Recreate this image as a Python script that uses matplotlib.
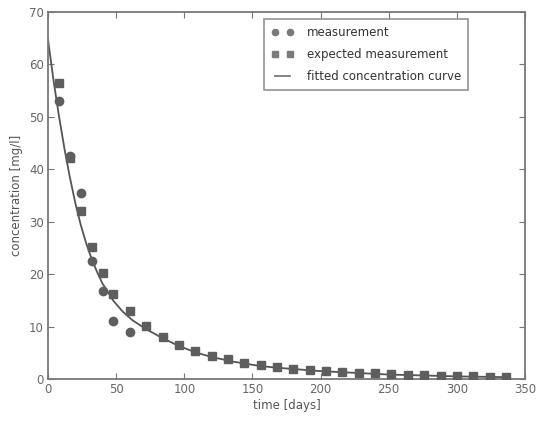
import matplotlib
matplotlib.use("Agg")
import matplotlib.pyplot as plt

# measured concentrations
meas_days = [8, 16, 24, 32, 40, 48, 60]
meas_conc = [53.1, 42.5, 35.4, 22.6, 16.8, 11.1, 9.0]

# expected measurements from the fitted model
exp_days = [8, 16, 24, 32, 40, 48, 60, 72, 84, 96, 108, 120, 132, 144, 156, 168,
            180, 192, 204, 216, 228, 240, 252, 264, 276, 288, 300, 312, 324, 336]
exp_conc = [56.5, 42.1, 32.0, 25.2, 20.2, 16.3, 13.0, 10.2, 8.1, 6.5, 5.3, 4.4,
            3.75, 3.1, 2.6, 2.2, 1.84, 1.72, 1.47, 1.34, 1.14, 1.07, 0.95, 0.83,
            0.70, 0.57, 0.57, 0.51, 0.44, 0.38]

# fitted concentration curve
fit_days = [0, 4, 8, 12, 16, 20, 24, 28, 32, 36, 40, 48, 55, 62, 72, 84, 96,
            108, 120, 136, 155, 168, 200, 250, 300, 336]
fit_conc = [64.7, 57.0, 50.2, 44.0, 38.5, 33.6, 29.4, 25.9, 22.9, 20.4, 18.2,
            14.9, 12.8, 11.2, 9.5, 7.8, 6.3, 5.1, 4.2, 3.3, 2.5, 2.15, 1.5,
            0.85, 0.5, 0.35]

fig = plt.figure(figsize=(5.36, 4.22), dpi=100)
ax = fig.add_axes([0.0896, 0.1019, 0.8899, 0.8697])

gray = "#5e5e5e"
ax.plot(fit_days, fit_conc, "-", color="#555555", lw=1.3,
        label="fitted concentration curve", zorder=2)
ax.plot(meas_days, meas_conc, "o", color=gray, mec=gray, ms=6,
        label="measurement", zorder=3)
ax.plot(exp_days, exp_conc, "s", color=gray, mec=gray, ms=5.5,
        label="expected measurement", zorder=3)

ax.set_xlim(0, 350)
ax.set_ylim(0, 70)
ax.set_xticks(range(0, 351, 50))
ax.set_yticks(range(0, 71, 10))

tick_color = "#666666"
ax.tick_params(direction="in", top=True, right=True, length=4, width=0.8,
               color="#777777", labelsize=8.5, labelcolor=tick_color, pad=3)
for s in ax.spines.values():
    s.set_color("#777777")
    s.set_linewidth(1.3)

ax.set_xlabel("time [days]", fontsize=8.5, color="#555555", labelpad=2)
ax.set_ylabel("concentration [mg/l]", fontsize=8.5, color="#555555", labelpad=4)

handles, labels = ax.get_legend_handles_labels()
order = [1, 2, 0]
leg = ax.legend([handles[i] for i in order], [labels[i] for i in order],
                loc="upper right", bbox_to_anchor=(0.881, 0.981), numpoints=2,
                markerscale=0.75, fontsize=8.5, frameon=True, fancybox=False,
                borderpad=0.6, labelspacing=0.75, handlelength=1.9,
                handletextpad=1.1, borderaxespad=0.0)
leg.get_frame().set_edgecolor("#777777")
leg.get_frame().set_linewidth(1.2)
for h in leg.legend_handles:
    h.set_color("#7a7a7a")
    if hasattr(h, "set_markeredgecolor"):
        h.set_markeredgecolor("#7a7a7a")
for t in leg.get_texts():
    t.set_color("#333333")

fig.savefig("out.png", dpi=100, facecolor="white")
